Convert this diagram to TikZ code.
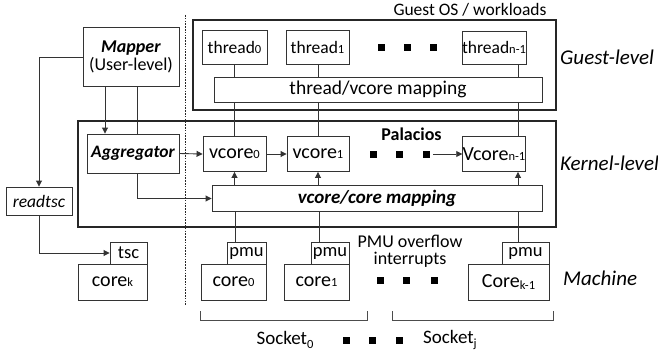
\documentclass[tikz,border=0pt]{standalone}
\usepackage{fontspec}
\setmainfont{Carlito}
\usetikzlibrary{arrows.meta,calc}
\pgfdeclarelayer{bg}
\pgfsetlayers{bg,main}
% small index digits sitting on the baseline
\newcommand\ix[1]{{\fontsize{12.5}{12}\selectfont #1}}
\newcommand\lix[1]{\raisebox{-1.5pt}{\fontsize{12.5}{12}\selectfont #1}}
\newcommand\subx[1]{\raisebox{-3.5pt}{\fontsize{12.5}{12}\selectfont #1}}
\newcommand\mainsize{\fontsize{17.5}{20}\selectfont}
\newcommand\coresize{\fontsize{20}{20}\selectfont}
\tikzset{
  ln/.style={draw=black!80, line width=0.9pt},
  arr/.style={ln, -{Triangle[length=6pt,width=6pt]}},
  box/.style={ln, fill=white, inner sep=0pt, align=center},
  corebox/.style={box, font=\coresize},
  regbox/.style={box, font=\fontsize{18.5}{20}\selectfont},
  frame/.style={draw=black!85, inner sep=0pt},
  sq/.style={fill=black, minimum size=7pt, inner sep=0pt},
  lbl/.style={inner sep=0pt, font=\fontsize{21}{22}\selectfont\itshape},
}
\begin{document}
\begin{tikzpicture}[x=1pt, y=-1pt, font=\mainsize]
\useasboundingbox (0,0) rectangle (658,353);

% level frames
\node[frame, line width=1.2pt, minimum width=363pt, minimum height=90pt] (guest) at (374.5,65) {};
\node[frame, line width=2pt, minimum width=478pt, minimum height=106pt] (pal) at (317,174) {};
\node[inner sep=0pt, anchor=center, font=\fontsize{17.5}{20}\selectfont] (guestlbl) at (470,10) {Guest OS / workloads};
\node[inner sep=0pt, font=\fontsize{18}{20}\selectfont\bfseries] (pallbl) at (411.5,134) {Palacios};

% separator between user tools and the virtualized stack
\coordinate (septop) at (185,15);
\coordinate (sepbot) at (185,306);
\draw[black!85, line width=0.8pt, dash pattern=on 1.6pt off 1.2pt] (septop) -- (sepbot);

% user-level side
\node[box, minimum width=96pt, minimum height=59pt, font=\fontsize{18}{20}\selectfont] (mapper) at (131,56.5)
  {\textbf{\textit{Mapper}}\\[-2pt](User-level)};
\node[box, minimum width=92pt, minimum height=39pt, font=\mainsize\bfseries\itshape] (agg) at (133,153.5) {Aggregator};
\node[box, minimum width=66pt, minimum height=28pt, font=\mainsize\itshape] (readtsc) at (39,201) {readtsc};

% guest threads
\node[box, minimum width=65pt, minimum height=34pt] (th0) at (234.5,47) {thread\ix{0}};
\node[box, minimum width=63pt, minimum height=34pt] (th1) at (317.5,47) {thread\ix{1}};
\node[box, minimum width=62pt, minimum height=33pt] (thn) at (494,47.5) {thread\ix{n-1}};
\node[box, minimum width=328pt, minimum height=25pt, font=\fontsize{19.5}{20}\selectfont] (tvmap) at (378,89.5) {thread/vcore mapping};

% virtual cores
\node[corebox, minimum width=63pt, minimum height=35pt] (vc0) at (234.5,154) {vcore\ix{0}};
\node[corebox, minimum width=62pt, minimum height=35pt] (vc1) at (318,154) {vcore\ix{1}};
\node[corebox, minimum width=62pt, minimum height=35pt] (vcn) at (494,154) {Vcore\ix{n-1}};
\node[box, minimum width=330pt, minimum height=26pt, font=\fontsize{19}{20}\selectfont\bfseries\itshape] (vcmap) at (377,198.5) {vcore/core mapping};

% physical cores
\node[regbox, minimum width=37pt, minimum height=22pt] (tsc) at (128.5,253) {tsc};
\node[corebox, minimum width=69pt, minimum height=36pt] (corek) at (112.5,282) {core\ix{k}};
\node[regbox, minimum width=39pt, minimum height=22pt] (pmu0) at (246.5,253) {pmu};
\node[corebox, minimum width=65pt, minimum height=36pt] (core0) at (233.5,282) {core\ix{0}};
\node[regbox, minimum width=38pt, minimum height=22pt] (pmu1) at (330,253) {pmu};
\node[corebox, minimum width=65pt, minimum height=36pt] (core1) at (316.5,282) {core\ix{1}};
\node[regbox, minimum width=47pt, minimum height=22pt] (pmun) at (525.5,253) {pmu};
\node[corebox, minimum width=81pt, minimum height=36pt] (coren) at (508.5,282) {Core\lix{k-1}};

\node[inner sep=0pt, align=center, font=\fontsize{18}{20}\selectfont] (pmulbl) at (410,251) {PMU overflow\\[-3pt]interrupts};

% ellipsis squares
\node[sq] (td1) at (381.7,47.7) {};
\node[sq] (td2) at (407,47.7) {};
\node[sq] (td3) at (433.5,47.7) {};
\node[sq] (vd1) at (373.3,154) {};
\node[sq] (vd2) at (399,154) {};
\node[sq] (vd3) at (426.7,154) {};
\node[sq] (cd1) at (380,280.7) {};
\node[sq] (cd2) at (406,280.7) {};
\node[sq] (cd3) at (434,280.7) {};
\node[sq] (sd1) at (346,340) {};
\node[sq] (sd2) at (372,340) {};
\node[sq] (sd3) at (399.3,340) {};

% level names
\node[lbl, anchor=west] (glev) at (560,57) {Guest-level};
\node[lbl, anchor=west] (klev) at (560,163) {Kernel-level};
\node[lbl, anchor=west] (mlev) at (563,278) {Machine};

% sockets
\coordinate (s0a) at (200,311);
\coordinate (s0b) at (367,311);
\coordinate (sja) at (392,311);
\coordinate (sjb) at (553,311);
\draw[black!70, line width=0.9pt] (s0a) -- ++(0,9) -| (s0b);
\draw[black!70, line width=0.9pt] (sja) -- ++(0,9) -| (sjb);
\node[inner sep=0pt, font=\fontsize{19}{20}\selectfont] (sock0) at (285,340) {Socket\subx{0}};
\node[inner sep=0pt, anchor=west, font=\fontsize{19}{20}\selectfont] (sockj) at (423,340) {Socket\subx{j}};

% connectors of the user-level tools
\draw[arr] (mapper.west |- 0,57) -| (readtsc.north);
\draw[arr] (readtsc.south) |- (tsc.west);
\draw[arr] (mapper.south -| 105,0) -- (agg.north -| 105,0);
\begin{pgfonlayer}{bg}
\draw[arr] (mapper.south -| 137,0) |- (vcmap.west);
\end{pgfonlayer}
\draw[arr] (agg.east) -- (vc0.west);
\draw[arr] (vc0.east) -- (vc1.west);
\draw[arr] ([xshift=3pt]vd3.east) -- (vcn.west);

% threads to vcores through the guest mapping
\draw[ln] (th0.south) -- (tvmap.north -| th0.south);
\draw[ln] (tvmap.south -| th0.south) -- (vc0.north);
\draw[ln] (th1.south -| 318,0) -- (tvmap.north -| 318,0);
\draw[ln] (tvmap.south -| 318,0) -- (vc1.north -| 318,0);
\draw[ln] (thn.south -| 518,0) -- (tvmap.north -| 518,0);
\draw[ln] (tvmap.south -| 518,0) -- (vcn.north -| 518,0);

% core mapping up to the vcores
\draw[arr] (vcmap.north -| vc0.south) -- (vc0.south);
\draw[arr] (vcmap.north -| 318,0) -- (vc1.south -| 318,0);
\draw[arr] (vcmap.north -| 518,0) -- (vcn.south -| 518,0);

% pmu interrupts into the core mapping
\draw[ln] (pmu0.north -| 235,0) -- (vcmap.south -| 235,0);
\draw[ln] (pmu1.north -| 319,0) -- (vcmap.south -| 319,0);
\draw[ln] (pmun.north -| 518,0) -- (vcmap.south -| 518,0);
\end{tikzpicture}
\end{document}
